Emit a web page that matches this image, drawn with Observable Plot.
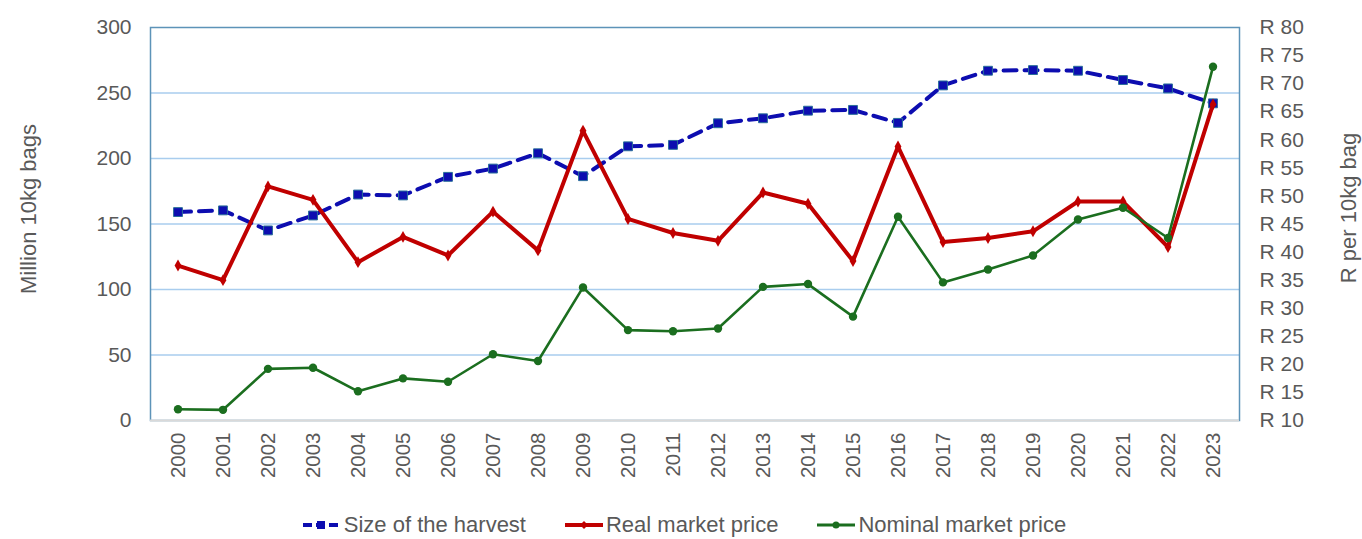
<!DOCTYPE html>
<html>
<head>
<meta charset="utf-8">
<script src="https://cdn.jsdelivr.net/npm/d3@7"></script>
<script src="https://cdn.jsdelivr.net/npm/@observablehq/plot@0.6"></script>
<style>
  html, body { margin: 0; padding: 0; background: #fff; }
  body { width: 1362px; height: 539px; overflow: hidden; font-family: "Liberation Sans", Arial, sans-serif; }
  #chart svg { display: block; }
  #legend { position: relative; height: 27px; padding-top: 12px; display: flex; justify-content: center; align-items: flex-start; gap: 38px; color: #595959; font-size: 22px; line-height: 25px; padding-left: 6px; }
  #legend .item { display: flex; align-items: center; gap: 2px; }
  #legend svg { display: block; }
</style>
</head>
<body>
<div id="chart"></div>
<div id="legend"></div>
<script>
const years = ["2000","2001","2002","2003","2004","2005","2006","2007","2008","2009","2010","2011","2012","2013","2014","2015","2016","2017","2018","2019","2020","2021","2022","2023"];
const harvest = [159.1,160.4,145.1,156.5,172.5,171.8,186.0,192.3,204.0,186.5,209.3,210.4,226.9,230.7,236.5,237.1,227.2,255.8,267.0,267.5,267.0,259.9,253.5,242.1];
const realPrice = [37.6,35.0,51.7,49.3,38.2,42.7,39.4,47.2,40.3,61.6,45.9,43.4,42.0,50.6,48.6,38.4,58.8,41.8,42.5,43.7,49.0,49.0,40.9,66.3];
const nominalPrice = [12.0,11.9,19.2,19.4,15.2,17.5,16.9,21.8,20.6,33.7,26.1,25.9,26.4,33.8,34.3,28.5,46.3,34.6,36.9,39.4,45.8,47.9,42.5,73.0];
const leftTicks = [0,50,100,150,200,250,300];
const rightTicks = [10,15,20,25,30,35,40,45,50,55,60,65,70,75,80];
const seriesNames = ["Size of the harvest","Real market price","Nominal market price"];
const leftLabel = "Million 10kg bags";
const rightLabel = "R per 10kg bag";

const BLUE = "#0d0db0", RED = "#c00000", GREEN = "#1b6e1f", GRID = "#a9cdee", FRAME = "#5d93b8", TEXT = "#595959";

// map right-axis values (R) onto the left scale domain
const rToLeft = r => (r - 10) * 300 / 70;
const leftToR = v => v * 70 / 300 + 10;

const harvestData = years.map((y, i) => ({year: y, v: harvest[i]}));
const realData = years.map((y, i) => ({year: y, v: rToLeft(realPrice[i])}));
const nomData = years.map((y, i) => ({year: y, v: rToLeft(nominalPrice[i])}));

const chart = Plot.plot({
  width: 1362,
  height: 500,
  marginLeft: 150,
  marginRight: 123,
  marginTop: 27,
  marginBottom: 80,
  style: {fontFamily: "'Liberation Sans', Arial, sans-serif", fontSize: "20px", color: TEXT, background: "#fff"},
  x: {type: "band", domain: years, padding: 0, align: 0.5},
  y: {domain: [0, 300]},
  marks: [
    Plot.ruleY(leftTicks.filter(d => d > 0 && d < 300), {stroke: GRID, strokeWidth: 1.5}),
    Plot.frame({stroke: FRAME, strokeWidth: 1.5}),
    Plot.ruleY([0], {stroke: "#d9d9d9", strokeWidth: 2}),
    Plot.axisY(leftTicks, {anchor: "left", tickSize: 0, tickPadding: 19, label: null, fontSize: 21, fill: TEXT}),
    Plot.axisY(rightTicks.map(rToLeft), {anchor: "right", tickSize: 0, tickPadding: 20, label: null, fontSize: 21, fill: TEXT, textAnchor: "start",
      tickFormat: d => "R " + Math.round(leftToR(d))}),
    Plot.axisX({tickSize: 0, tickPadding: 12, tickRotate: -90, label: null, fontSize: 20.5, fill: TEXT}),
    Plot.text([leftLabel], {frameAnchor: "left", textAnchor: "middle", dx: -122, dy: -15, rotate: -90, fontSize: 22, fill: TEXT}),
    Plot.text([rightLabel], {frameAnchor: "right", textAnchor: "middle", dx: 109, dy: -16, rotate: -90, fontSize: 22, fill: TEXT}),
    Plot.line(harvestData, {x: "year", y: "v", stroke: BLUE, strokeWidth: 4, strokeDasharray: "13,8"}),
    Plot.dot(harvestData, {x: "year", y: "v", symbol: "square", r: 5, fill: BLUE, stroke: "#2a6f9a", strokeWidth: 1}),
    Plot.line(realData, {x: "year", y: "v", stroke: RED, strokeWidth: 4}),
    Plot.dot(realData, {x: "year", y: "v", symbol: "diamond", r: 3.6, fill: RED}),
    Plot.line(nomData, {x: "year", y: "v", stroke: GREEN, strokeWidth: 2.6}),
    Plot.dot(nomData, {x: "year", y: "v", symbol: "circle", r: 4.2, fill: GREEN})
  ]
});
document.getElementById("chart").appendChild(chart);

// legend
const legend = document.getElementById("legend");
const swatches = [
  `<svg width="40" height="12"><line x1="1" y1="6" x2="39" y2="6" stroke="${BLUE}" stroke-width="4" stroke-dasharray="9,4"/><rect x="15" y="2" width="8" height="8" fill="${BLUE}"/></svg>`,
  `<svg width="40" height="12"><line x1="1" y1="6" x2="39" y2="6" stroke="${RED}" stroke-width="4"/><path d="M20,2 L24,6 L20,10 L16,6 Z" fill="${RED}"/></svg>`,
  `<svg width="40" height="12"><line x1="1" y1="6" x2="39" y2="6" stroke="${GREEN}" stroke-width="3"/><circle cx="20" cy="6" r="3.5" fill="${GREEN}"/></svg>`
];
seriesNames.forEach((name, i) => {
  const item = document.createElement("div");
  item.className = "item";
  item.innerHTML = swatches[i] + `<span>${name}</span>`;
  legend.appendChild(item);
});
</script>
</body>
</html>
